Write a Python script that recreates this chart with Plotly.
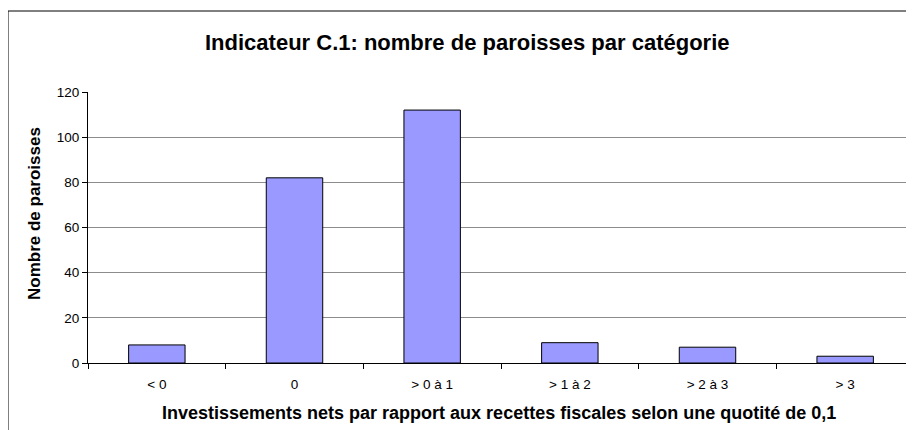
import plotly.graph_objects as go

categories = ["< 0", "0", "> 0 à 1", "> 1 à 2", "> 2 à 3", "> 3"]
values = [8, 82, 112, 9, 7, 3]
y_ticks = [0, 20, 40, 60, 80, 100, 120]

title = "Indicateur C.1: nombre de paroisses par catégorie"
x_title = "Investissements nets par rapport aux recettes fiscales selon une quotité de 0,1"
y_title = "Nombre de paroisses"

# page body has an 8px margin; work in screen pixels and offset
OFF = 8
W, H = 914 - OFF, 430 - OFF
ml, mr, mt = 88 - OFF, 0, 92 - OFF
mb = H - (363 - OFF)
pw = W - ml - mr
ph = H - mt - mb

def px_x(x):
    return (x - OFF - ml) / pw

def px_y(y):
    return (H - mb - (y - OFF)) / ph

fig = go.Figure()
fig.add_trace(go.Bar(
    x=categories, y=values,
    marker=dict(color="#9999FF", line=dict(color="#000000", width=1)),
    width=0.41,
))

font = "Liberation Sans, Arial, sans-serif"
fig.update_layout(
    width=W, height=H,
    margin=dict(l=ml, r=mr, t=mt, b=mb, autoexpand=False),
    paper_bgcolor="white", plot_bgcolor="white",
    showlegend=False,
    font=dict(family=font, color="black", size=13),
    xaxis=dict(
        type="category", range=[-0.5, 5.5], tickson="boundaries",
        ticks="outside", ticklen=5, tickcolor="black",
        showline=True, linecolor="black", linewidth=1,
        showgrid=False, tickfont=dict(size=13.5), automargin=False,
        ticklabelstandoff=9,
    ),
    yaxis=dict(
        range=[0, 120], tickvals=y_ticks, ticks="outside", ticklen=5, tickcolor="black",
        showline=True, linecolor="black", linewidth=1,
        showgrid=True, gridcolor="#8c8c8c", gridwidth=1, zeroline=False,
        tickfont=dict(size=13.5), automargin=False,
    ),
    annotations=[
        dict(text="<b>" + title + "</b>", xref="paper", yref="paper",
             x=px_x(467), y=px_y(42), xanchor="center", yanchor="middle",
             showarrow=False, font=dict(size=22)),
        dict(text="<b>" + x_title + "</b>", xref="paper", yref="paper",
             x=px_x(499), y=px_y(413), xanchor="center", yanchor="middle",
             showarrow=False, font=dict(size=18)),
        dict(text="<b>" + y_title + "</b>", xref="paper", yref="paper",
             x=px_x(34), y=px_y(214), xanchor="center", yanchor="middle",
             showarrow=False, textangle=-90, font=dict(size=17)),
    ],
    shapes=[dict(
        type="rect", xref="paper", yref="paper",
        x0=px_x(8), x1=px_x(914 + 20),
        y0=px_y(430 + 20), y1=px_y(11),
        line=dict(color="black", width=1), fillcolor="rgba(0,0,0,0)", layer="above",
    )],
)

fig.write_html("out.html")
